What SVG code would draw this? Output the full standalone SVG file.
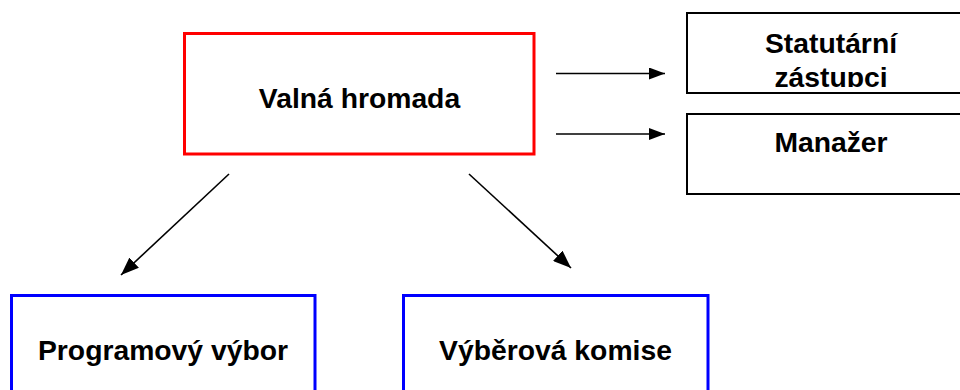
<svg xmlns="http://www.w3.org/2000/svg" width="960" height="390" viewBox="0 0 960 390">
  <style>
    .lbl { font-family: "Liberation Sans", Arial, sans-serif; font-weight: bold; font-size: 28.3px; fill: #000; text-anchor: middle; }
    .red { fill: #fff; stroke: #ff0000; stroke-width: 3; }
    .blue { fill: #fff; stroke: #0000ff; stroke-width: 3; }
    .blk { fill: #fff; stroke: #000; stroke-width: 2; }
    .conn { stroke: #000; stroke-width: 1.6; fill: none; marker-end: url(#arr); }
    .conn.diag { marker-end: url(#arrBig); }
  </style>
  <defs>
    <marker id="arr" viewBox="0 0 16 12" refX="16" refY="6" markerWidth="16" markerHeight="12" markerUnits="userSpaceOnUse" orient="auto">
      <path d="M0,0 L16,6 L0,12 Z" fill="#000"/>
    </marker>
    <marker id="arrBig" viewBox="0 0 18 14" refX="18" refY="7" markerWidth="18" markerHeight="14" markerUnits="userSpaceOnUse" orient="auto">
      <path d="M0,0 L18,7 L0,14 Z" fill="#000"/>
    </marker>
    <clipPath id="clipStat">
      <rect x="688" y="14" width="290" height="73"/>
    </clipPath>
  </defs>
  <rect width="960" height="390" fill="#fff"/>

  <g id="valna-hromada">
    <rect class="red" x="184.5" y="33.5" width="349.5" height="120.5"/>
    <text class="lbl" x="359.5" y="107.5">Valná hromada</text>
  </g>

  <g id="statutarni-zastupci">
    <rect class="blk" x="687" y="13" width="290" height="80"/>
    <g clip-path="url(#clipStat)">
      <text class="lbl" x="831" y="53">Statutární</text>
      <text class="lbl" x="831" y="87">zástupci</text>
    </g>
  </g>

  <g id="manazer">
    <rect class="blk" x="687" y="114" width="290" height="80"/>
    <text class="lbl" x="831" y="152">Manažer</text>
  </g>

  <g id="programovy-vybor">
    <rect class="blue" x="11.5" y="295.5" width="303.5" height="110"/>
    <text class="lbl" x="163" y="360">Programový výbor</text>
  </g>

  <g id="vyberova-komise">
    <rect class="blue" x="403.5" y="295.5" width="304.5" height="110"/>
    <text class="lbl" x="555.5" y="360">Výběrová komise</text>
  </g>

  <g id="connectors">
    <line class="conn" x1="556" y1="73.5" x2="665" y2="73.5"/>
    <line class="conn" x1="556" y1="134" x2="665" y2="134"/>
    <line class="conn diag" x1="229" y1="174" x2="121" y2="275"/>
    <line class="conn diag" x1="469" y1="174" x2="571" y2="268"/>
  </g>
</svg>
